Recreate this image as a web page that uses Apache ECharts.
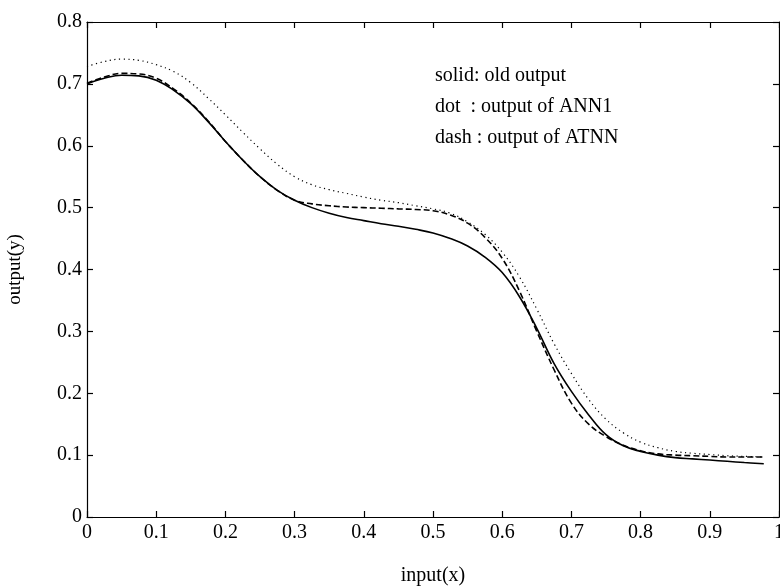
<!DOCTYPE html>
<html>
<head>
<meta charset="utf-8">
<script src="https://cdn.jsdelivr.net/npm/echarts@6/dist/echarts.min.js"></script>
<style>html,body{margin:0;padding:0;background:#fff;}#c{width:780px;height:586px;}</style>
</head>
<body>
<div id="c"></div>
<script>
// common x positions (input)
const xs = [0, 0.025, 0.05, 0.075, 0.1, 0.125, 0.15, 0.175, 0.2, 0.225,
            0.25, 0.275, 0.3, 0.325, 0.35, 0.375, 0.4, 0.425, 0.45, 0.475,
            0.5, 0.525, 0.55, 0.575, 0.6, 0.625, 0.65, 0.675, 0.7, 0.725,
            0.75, 0.775, 0.8, 0.825, 0.85, 0.875, 0.9, 0.925, 0.95, 0.978];
// solid: old output
const solidY = [0.700, 0.709, 0.714, 0.713, 0.706, 0.690, 0.668, 0.639, 0.607, 0.577,
                0.550, 0.528, 0.512, 0.500, 0.491, 0.484, 0.479, 0.474, 0.470, 0.465,
                0.459, 0.450, 0.438, 0.420, 0.395, 0.356, 0.305, 0.248, 0.203, 0.165,
                0.133, 0.115, 0.106, 0.100, 0.096, 0.094, 0.092, 0.090, 0.088, 0.086];
// dot: output of ANN1
const dotY = [0.728, 0.736, 0.740, 0.738, 0.731, 0.720, 0.702, 0.677, 0.650, 0.622,
              0.595, 0.570, 0.550, 0.537, 0.529, 0.523, 0.517, 0.512, 0.508, 0.503,
              0.498, 0.491, 0.477, 0.457, 0.428, 0.388, 0.336, 0.280, 0.232, 0.190,
              0.158, 0.136, 0.121, 0.112, 0.106, 0.103, 0.101, 0.099, 0.098, 0.097];
// dash: output of ATNN
const dashY = [0.701, 0.711, 0.717, 0.716, 0.709, 0.692, 0.669, 0.640, 0.607, 0.577,
               0.550, 0.528, 0.512, 0.506, 0.503, 0.501, 0.500, 0.499, 0.498, 0.497,
               0.495, 0.488, 0.475, 0.452, 0.418, 0.365, 0.300, 0.238, 0.184, 0.150,
               0.130, 0.116, 0.107, 0.102, 0.100, 0.099, 0.098, 0.097, 0.097, 0.097];

const legendLines = ['solid: old output', 'dot  : output of ANN1', 'dash : output of ATNN'];

const pairs = (ys) => xs.map((x, i) => [x, ys[i]]);
const FONT = 'Liberation Serif';

const chart = echarts.init(document.getElementById('c'), null, {renderer: 'canvas'});
const axisCommon = {
  type: 'value',
  splitLine: {show: false},
  axisLine: {show: true, onZero: false, lineStyle: {color: '#000', width: 1.2}},
  axisTick: {show: true, inside: true, length: 6, lineStyle: {color: '#000', width: 1.2}},
};
chart.setOption({
  animation: false,
  backgroundColor: '#fff',
  grid: {left: 87, right: 1, top: 22, bottom: 69, containLabel: false, outerBoundsMode: 'none'},
  xAxis: [
    Object.assign({}, axisCommon, {
      position: 'bottom', min: 0, max: 1, interval: 0.1,
      axisLabel: {color: '#000', fontFamily: FONT, fontSize: 20, margin: 6},
      name: 'input(x)', nameLocation: 'middle', nameGap: 49,
      nameTextStyle: {color: '#000', fontFamily: FONT, fontSize: 20}
    }),
    Object.assign({}, axisCommon, {
      position: 'top', min: 0, max: 1, interval: 0.1,
      axisLabel: {show: false}
    })
  ],
  yAxis: [
    Object.assign({}, axisCommon, {
      position: 'left', min: 0, max: 0.8, interval: 0.1,
      axisLabel: {color: '#000', fontFamily: FONT, fontSize: 20, margin: 5},
      name: 'output(y)', nameLocation: 'middle', nameGap: 62, nameRotate: 90,
      nameTextStyle: {color: '#000', fontFamily: FONT, fontSize: 19}
    }),
    Object.assign({}, axisCommon, {
      position: 'right', min: 0, max: 0.8, interval: 0.1,
      axisLabel: {show: false}
    })
  ],
  graphic: legendLines.map((t, i) => ({
    type: 'text', x: 435, y: 76 + i * 31,
    style: {text: t, fill: '#000', font: '20px "Liberation Serif"', verticalAlign: 'middle'}
  })),
  series: [
    {type: 'line', name: 'solid', data: pairs(solidY), smooth: 0.4, showSymbol: false,
     lineStyle: {color: '#000', width: 1.6, type: 'solid'}},
    {type: 'line', name: 'dot', data: pairs(dotY), smooth: 0.4, showSymbol: false,
     lineStyle: {color: '#000', width: 1.2, type: [1.2, 3.5]}},
    {type: 'line', name: 'dash', data: pairs(dashY), smooth: 0.4, showSymbol: false,
     lineStyle: {color: '#000', width: 1.6, type: [6, 3]}}
  ]
});
</script>
</body>
</html>
